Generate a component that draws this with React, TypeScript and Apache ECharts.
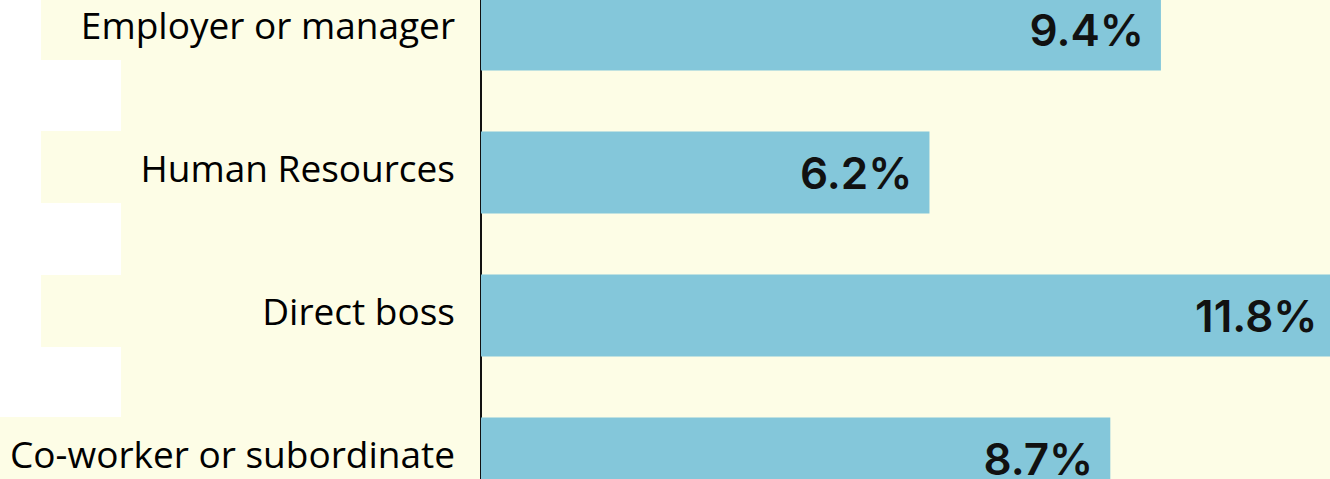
import React, { useEffect, useRef } from "react";
import * as echarts from "echarts";

const categories = [
  "Employer or manager",
  "Human Resources",
  "Direct boss",
  "Co-worker or subordinate",
];
const shares = [9.4, 6.2, 11.8, 8.7];
const axisMin = 0;
const axisMax = 12;

const YELLOW = "#FDFDE6";
const BAR = "#84C7DA";

export default function App() {
  const ref = useRef<HTMLDivElement>(null);
  useEffect(() => {
    document.body.style.margin = "0";
    if (!ref.current) return;
    const chart = echarts.init(ref.current, null, { renderer: "svg" });
    chart.setOption({
      animation: false,
      backgroundColor: "#ffffff",
      graphic: [
        { type: "rect", z: -10, silent: true, shape: { x: 121, y: 0, width: 1209, height: 479 }, style: { fill: YELLOW } },
        { type: "rect", z: -10, silent: true, shape: { x: 41, y: 0, width: 80, height: 60 }, style: { fill: YELLOW } },
        { type: "rect", z: -10, silent: true, shape: { x: 41, y: 131, width: 80, height: 72 }, style: { fill: YELLOW } },
        { type: "rect", z: -10, silent: true, shape: { x: 41, y: 275, width: 80, height: 72 }, style: { fill: YELLOW } },
        { type: "rect", z: -10, silent: true, shape: { x: 0, y: 417, width: 121, height: 62 }, style: { fill: YELLOW } },
      ],
      grid: {
        left: 481,
        top: -42,
        width: 868,
        height: 572,
        containLabel: false,
        outerBoundsMode: "none",
      },
      xAxis: {
        type: "value",
        min: axisMin,
        max: axisMax,
        show: false,
      },
      yAxis: {
        type: "category",
        inverse: true,
        data: categories,
        axisLine: { show: true, lineStyle: { color: "#111111", width: 2 } },
        axisTick: { show: false },
        splitLine: { show: false },
        axisLabel: {
          margin: 26,
          formatter: (v: string) => `{a|${v}}`,
          rich: {
            a: {
              color: "#000000",
              fontFamily: "Open Sans",
              fontSize: 37,
              padding: [0, 0, 10, 0],
            },
          },
        },
      },
      series: [
        {
          type: "bar",
          data: shares,
          barWidth: 82,
          itemStyle: { color: BAR },
          label: {
            show: true,
            position: "insideRight",
            distance: 17,
            formatter: (p: any) => p.value.toFixed(1) + "%",
            color: "#111111",
            fontFamily: "Inter",
            fontWeight: 600,
            fontSize: 44,
          },
        },
      ],
    });
    return () => chart.dispose();
  }, []);
  return <div ref={ref} style={{ width: 1330, height: 479 }} />;
}
